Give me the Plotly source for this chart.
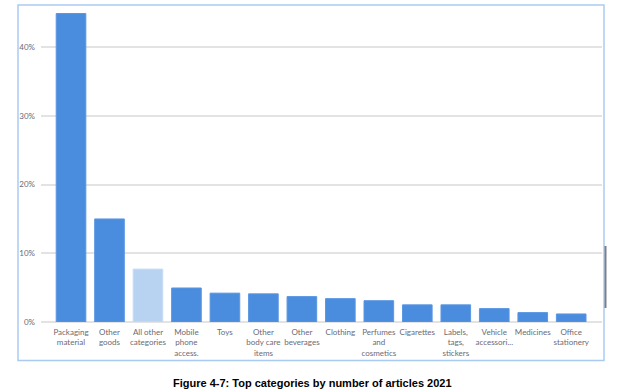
import plotly.graph_objects as go

categories = ["Packaging<br>material", "Other<br>goods", "All other<br>categories",
              "Mobile<br>phone<br>access.", "Toys", "Other<br>body care<br>items",
              "Other<br>beverages", "Clothing", "Perfumes<br>and<br>cosmetics",
              "Cigarettes", "Labels,<br>tags,<br>stickers", "Vehicle<br>accessori...",
              "Medicines", "Office<br>stationery"]
values = [44.9, 15.0, 7.7, 4.95, 4.2, 4.1, 3.7, 3.4, 3.1, 2.5, 2.5, 1.95, 1.37, 1.17]
highlight = [False, False, True, False, False, False, False, False, False, False, False, False, False, False]
y_ticks = [0, 10, 20, 30, 40]
y_tick_labels = ["0%", "10%", "20%", "30%", "40%"]

colors = ["#B8D3F2" if h else "#4A8CDE" for h in highlight]
lines = ["#C9DDF5" if h else "#5A97E2" for h in highlight]

fig = go.Figure(go.Bar(
    x=list(range(len(categories))), y=values,
    marker=dict(color=colors, line=dict(color=lines, width=1)),
    width=0.77,
))

L, R, T, B = 41, 25, 10, 70
W, H = 627, 392
pw = W - L - R
ph = H - T - B

fig.update_layout(
    width=W, height=H,
    margin=dict(l=L, r=R, t=T, b=B, autoexpand=False),
    paper_bgcolor="white", plot_bgcolor="white",
    showlegend=False,
    font=dict(family="Lato, Open Sans, sans-serif", color="#6a6a75", size=8),
    xaxis=dict(
        tickmode="array", tickvals=list(range(len(categories))), ticktext=categories,
        range=[-0.78, 13.8], showgrid=False, zeroline=False, showline=False,
        tickangle=0, ticks="", tickfont=dict(size=8, color="#6a6a75"), automargin=False,
        ticklabelstandoff=4,
    ),
    yaxis=dict(
        tickmode="array", tickvals=y_ticks, ticktext=y_tick_labels, range=[0, ph / 6.87],
        showgrid=True, gridcolor="#E3E3E3", gridwidth=1.5,
        zeroline=True, zerolinecolor="#E3E3E3", zerolinewidth=1.5,
        showline=False, ticks="", tickfont=dict(size=8, color="#6a6a75"),
        ticklabelstandoff=5, automargin=False,
    ),
)

def px_x(x):
    return (x - L) / pw

def px_y(y):
    return (H - B - y) / ph

fig.add_shape(type="rect", xref="paper", yref="paper",
              x0=px_x(18), x1=px_x(604), y0=px_y(360.5), y1=px_y(5),
              line=dict(color="#A9CBF2", width=1.5), fillcolor="rgba(0,0,0,0)", layer="below")
fig.add_shape(type="line", xref="paper", yref="paper",
              x0=px_x(605.5), x1=px_x(605.5), y0=px_y(308), y1=px_y(246),
              line=dict(color="#7A7F88", width=2))

fig.add_annotation(text="<b>Figure 4-7: Top categories by number of articles 2021</b>",
                   xref="paper", yref="paper", x=px_x(312), y=px_y(382.5),
                   xanchor="center", yanchor="middle", showarrow=False,
                   font=dict(family="Arial, Liberation Sans, sans-serif", size=11, color="#000000"))

fig.write_html("out.html", config={"displayModeBar": False},
               post_script="document.body.style.margin='0';document.body.style.padding='0';")
